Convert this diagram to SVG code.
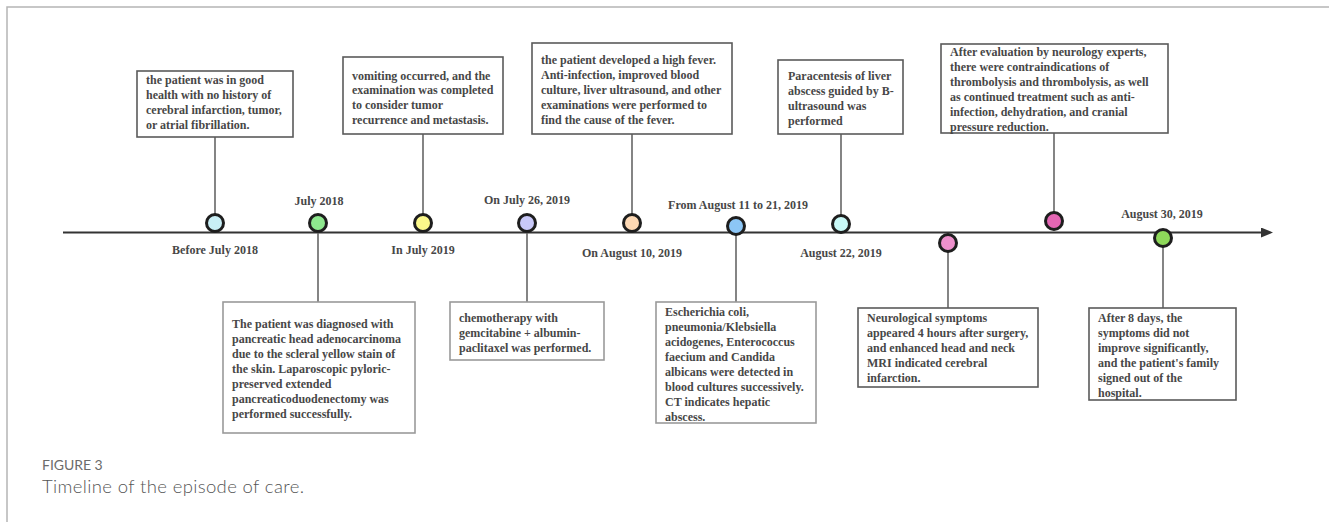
<svg xmlns="http://www.w3.org/2000/svg" width="1329" height="522" viewBox="0 0 1329 522">
<style>
.bg{fill:#fff}
.frame{fill:none;stroke:#b5b5b5;stroke-width:1.5}
.box{fill:#fff;stroke:#5a5a5a;stroke-width:1.6}
.boxl{fill:#fff;stroke:#9a9a9a;stroke-width:1.6}
.t{font-family:"Liberation Serif",serif;font-weight:bold;font-size:12px;fill:#474747}
.d{font-family:"Liberation Serif",serif;font-weight:bold;font-size:12px;fill:#474747;text-anchor:middle}
.dot{stroke:#1e1e1e;stroke-width:3}
.link{stroke:#666;stroke-width:1.6;fill:none}
.axis{stroke:#333;stroke-width:2;fill:none}
.fig{font-family:Lato,"Open Sans",sans-serif;font-size:14px;fill:#6b6b6b;letter-spacing:0.3px}
.cap{font-family:Lato,"Open Sans",sans-serif;font-weight:300;font-size:18.5px;fill:#555}
</style>
<defs>
<marker id="arr" viewBox="0 0 12 10" refX="1" refY="5" markerWidth="12" markerHeight="10" markerUnits="userSpaceOnUse" orient="auto">
<path d="M0,0 L12,5 L0,10 Z" fill="#333"/>
</marker>
</defs>
<rect class="bg" x="0" y="0" width="1329" height="522"/>
<path class="frame" d="M7,522 V7 H1329"/>

<g id="connectors">
<line class="axis" x1="63" y1="232.5" x2="1262" y2="232.5" marker-end="url(#arr)"/>
<line class="link" x1="215" y1="137" x2="215" y2="214"/>
<line class="link" x1="318" y1="232" x2="318" y2="302"/>
<line class="link" x1="423" y1="134" x2="423" y2="214"/>
<line class="link" x1="527" y1="232" x2="527" y2="302"/>
<line class="link" x1="632" y1="134" x2="632" y2="214"/>
<line class="link" x1="736" y1="235" x2="736" y2="302"/>
<line class="link" x1="841" y1="134" x2="841" y2="215"/>
<line class="link" x1="948" y1="252" x2="948" y2="308"/>
<line class="link" x1="1054" y1="133" x2="1054" y2="212"/>
<line class="link" x1="1163" y1="247" x2="1163" y2="308"/>
</g>

<g id="n1">
<circle class="dot" cx="215" cy="223" r="8.5" fill="#c9eff6"/>
<text class="d" x="215" y="254">Before July 2018</text>
<rect class="box" x="137" y="71" width="156" height="66"/>
<text class="t" x="146" y="84">the patient was in good</text>
<text class="t" x="146" y="99">health with no history of</text>
<text class="t" x="146" y="114">cerebral infarction, tumor,</text>
<text class="t" x="146" y="129">or atrial fibrillation.</text>
</g>

<g id="n2">
<circle class="dot" cx="318" cy="223" r="8.5" fill="#8ee88e"/>
<text class="d" x="319" y="205">July 2018</text>
<rect class="boxl" x="223" y="302" width="192" height="131"/>
<text class="t" x="232" y="328">The patient was diagnosed with</text>
<text class="t" x="232" y="343">pancreatic head adenocarcinoma</text>
<text class="t" x="232" y="358">due to the scleral yellow stain of</text>
<text class="t" x="232" y="373">the skin. Laparoscopic pyloric-</text>
<text class="t" x="232" y="388">preserved extended</text>
<text class="t" x="232" y="403">pancreaticoduodenectomy was</text>
<text class="t" x="232" y="418">performed successfully.</text>
</g>

<g id="n3">
<circle class="dot" cx="423" cy="223" r="8.5" fill="#fbf88a"/>
<text class="d" x="423" y="254">In July 2019</text>
<rect class="box" x="343" y="57" width="160" height="77"/>
<text class="t" x="352" y="80">vomiting occurred, and the</text>
<text class="t" x="352" y="94">examination was completed</text>
<text class="t" x="352" y="109">to consider tumor</text>
<text class="t" x="352" y="124">recurrence and metastasis.</text>
</g>

<g id="n4">
<circle class="dot" cx="527" cy="223" r="8.5" fill="#c8c8f8"/>
<text class="d" x="527" y="204">On July 26, 2019</text>
<rect class="boxl" x="450" y="302" width="154" height="58"/>
<text class="t" x="459" y="322">chemotherapy with</text>
<text class="t" x="459" y="337">gemcitabine + albumin-</text>
<text class="t" x="459" y="352">paclitaxel was performed.</text>
</g>

<g id="n5">
<circle class="dot" cx="632" cy="223" r="8.5" fill="#fcd8b4"/>
<text class="d" x="632" y="257">On August 10, 2019</text>
<rect class="box" x="532" y="43" width="200" height="91"/>
<text class="t" x="541" y="64">the patient developed a high fever.</text>
<text class="t" x="541" y="79">Anti-infection, improved blood</text>
<text class="t" x="541" y="94">culture, liver ultrasound, and other</text>
<text class="t" x="541" y="109">examinations were performed to</text>
<text class="t" x="541" y="124">find the cause of the fever.</text>
</g>

<g id="n6">
<circle class="dot" cx="736" cy="226" r="8.5" fill="#8cc6f6"/>
<text class="d" x="738" y="209">From August 11 to 21, 2019</text>
<rect class="boxl" x="656" y="302" width="160" height="121"/>
<text class="t" x="665" y="316">Escherichia coli,</text>
<text class="t" x="665" y="331">pneumonia/Klebsiella</text>
<text class="t" x="665" y="346">acidogenes, Enterococcus</text>
<text class="t" x="665" y="361">faecium and Candida</text>
<text class="t" x="665" y="376">albicans were detected in</text>
<text class="t" x="665" y="391">blood cultures successively.</text>
<text class="t" x="665" y="406">CT indicates hepatic</text>
<text class="t" x="665" y="421">abscess.</text>
</g>

<g id="n7">
<circle class="dot" cx="841" cy="224" r="8.5" fill="#c8f8f6"/>
<text class="d" x="841" y="257">August 22, 2019</text>
<rect class="box" x="778" y="60" width="125" height="74"/>
<text class="t" x="788" y="80">Paracentesis of liver</text>
<text class="t" x="788" y="95">abscess guided by B-</text>
<text class="t" x="788" y="110">ultrasound was</text>
<text class="t" x="788" y="125">performed</text>
</g>

<g id="n8">
<circle class="dot" cx="948" cy="243" r="8.5" fill="#ee90cc"/>
<rect class="box" x="858" y="308" width="180" height="79"/>
<text class="t" x="867" y="322">Neurological symptoms</text>
<text class="t" x="867" y="337">appeared 4 hours after surgery,</text>
<text class="t" x="867" y="352">and enhanced head and neck</text>
<text class="t" x="867" y="367">MRI indicated cerebral</text>
<text class="t" x="867" y="382">infarction.</text>
</g>

<g id="n9">
<circle class="dot" cx="1054" cy="221" r="8.5" fill="#e466b4"/>
<rect class="box" x="941" y="44" width="227" height="89"/>
<text class="t" x="950" y="56">After evaluation by neurology experts,</text>
<text class="t" x="950" y="71">there were contraindications of</text>
<text class="t" x="950" y="86">thrombolysis and thrombolysis, as well</text>
<text class="t" x="950" y="101">as continued treatment such as anti-</text>
<text class="t" x="950" y="116">infection, dehydration, and cranial</text>
<text class="t" x="950" y="131">pressure reduction.</text>
</g>

<g id="n10">
<circle class="dot" cx="1163" cy="238" r="8.5" fill="#8ed95a"/>
<text class="d" x="1162" y="218">August 30, 2019</text>
<rect class="box" x="1089" y="308" width="147" height="92"/>
<text class="t" x="1098" y="322">After 8 days, the</text>
<text class="t" x="1098" y="337">symptoms did not</text>
<text class="t" x="1098" y="352">improve significantly,</text>
<text class="t" x="1098" y="367">and the patient's family</text>
<text class="t" x="1098" y="382">signed out of the</text>
<text class="t" x="1098" y="397">hospital.</text>
</g>

<g id="caption">
<text class="fig" x="42" y="470" textLength="61" lengthAdjust="spacing">FIGURE 3</text>
<text class="cap" x="42" y="493" textLength="262" lengthAdjust="spacing">Timeline of the episode of care.</text>
</g>
</svg>
